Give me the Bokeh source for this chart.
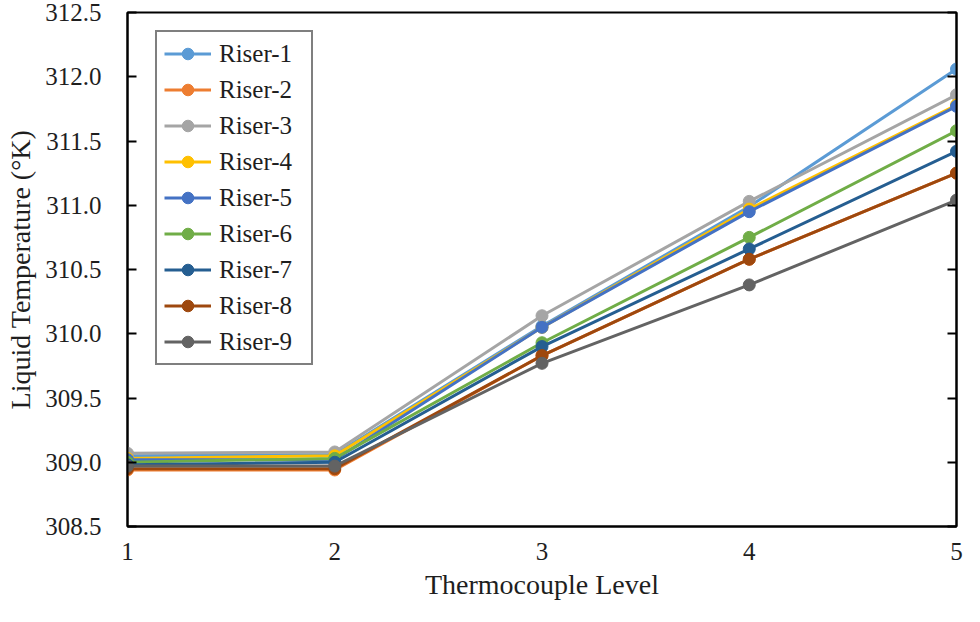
from bokeh.plotting import figure
from bokeh.models import (Range1d, LinearAxis, Legend, LegendItem, FixedTicker,
                          NumeralTickFormatter, CustomJSTickFormatter)
from bokeh.embed import file_html
from bokeh.resources import INLINE

levels = [1, 2, 3, 4, 5]
riser_1 = [309.05, 309.06, 310.06, 310.99, 312.06]
riser_2 = [308.94, 308.94, 309.83, 310.58, 311.25]
riser_3 = [309.07, 309.08, 310.14, 311.03, 311.86]
riser_4 = [309.03, 309.05, 310.05, 310.97, 311.78]
riser_5 = [309.02, 309.02, 310.05, 310.95, 311.77]
riser_6 = [309.00, 309.03, 309.93, 310.75, 311.58]
riser_7 = [308.98, 309.00, 309.90, 310.66, 311.42]
riser_8 = [308.95, 308.95, 309.83, 310.58, 311.25]
riser_9 = [308.97, 308.97, 309.77, 310.38, 311.04]
series_names = ["Riser-1", "Riser-2", "Riser-3", "Riser-4", "Riser-5",
                "Riser-6", "Riser-7", "Riser-8", "Riser-9"]
series_values = [riser_1, riser_2, riser_3, riser_4, riser_5,
                 riser_6, riser_7, riser_8, riser_9]
colors = ["#5B9BD5", "#ED7D31", "#A5A5A5", "#FFC000", "#4472C4",
          "#70AD47", "#255E91", "#9E480E", "#636363"]
y_ticks = [308.5, 309.0, 309.5, 310.0, 310.5, 311.0, 311.5, 312.0, 312.5]

FONT = "Liberation Serif"
TXT = "#1e1e1e"

p = figure(width=964, height=606, output_backend="svg", toolbar_location=None,
           x_range=Range1d(1, 5), y_range=Range1d(308.5, 312.5),
           min_border_left=127, min_border_right=8, min_border_top=12,
           min_border_bottom=80)
p.xgrid.visible = False
p.ygrid.visible = False
p.outline_line_color = "black"
p.outline_line_width = 2
p.background_fill_color = "white"
p.border_fill_color = "white"

items = []
for name, vals, c in zip(series_names, series_values, colors):
    r1 = p.line(levels, vals, line_color=c, line_width=3)
    r2 = p.scatter(levels, vals, size=12, fill_color=c, line_color=c)
    items.append(LegendItem(label=name, renderers=[r1, r2]))

# x axis
xa = p.xaxis[0]
xa.ticker = FixedTicker(ticks=levels)
xa.major_tick_line_color = None
xa.minor_tick_line_color = None
xa.axis_line_color = "black"
xa.axis_line_width = 2
xa.major_label_text_font = FONT
xa.major_label_text_font_size = "25px"
xa.major_label_text_color = TXT
xa.major_label_standoff = 10
xa.axis_label = "Thermocouple Level"
xa.axis_label_text_font = FONT
xa.axis_label_text_font_size = "28px"
xa.axis_label_text_font_style = "normal"
xa.axis_label_text_color = TXT
xa.axis_label_standoff = 6

# y axis
ya = p.yaxis[0]
ya.ticker = FixedTicker(ticks=y_ticks)
ya.formatter = NumeralTickFormatter(format="0.0")
ya.major_tick_in = 9
ya.major_tick_out = 0
ya.major_tick_line_width = 2
ya.minor_tick_line_color = None
ya.axis_line_color = "black"
ya.axis_line_width = 2
ya.major_label_text_font = FONT
ya.major_label_text_font_size = "25px"
ya.major_label_text_color = TXT
ya.major_label_standoff = 26
ya.axis_label = "Liquid Temperature (\u00b0K)"
ya.axis_label_text_font = FONT
ya.axis_label_text_font_size = "28px"
ya.axis_label_text_font_style = "normal"
ya.axis_label_text_color = TXT
ya.axis_label_standoff = 6

# right axis: inward ticks, no labels
ra = LinearAxis(ticker=FixedTicker(ticks=y_ticks), major_tick_in=9, major_tick_out=0,
                major_tick_line_width=2, minor_tick_line_color=None,
                axis_line_width=2,
                formatter=CustomJSTickFormatter(code="return ''"))
p.add_layout(ra, "right")

legend = Legend(items=items, location=(28, 161),
                label_text_font=FONT, label_text_font_size="25px",
                label_text_color=TXT,
                glyph_width=47, glyph_height=29, label_height=29, label_width=85,
                label_standoff=8, spacing=7, padding=7,
                border_line_color="black", border_line_width=2,
                background_fill_color="white", background_fill_alpha=1.0)
p.add_layout(legend)

open("out.html", "w").write(file_html(p, INLINE))
